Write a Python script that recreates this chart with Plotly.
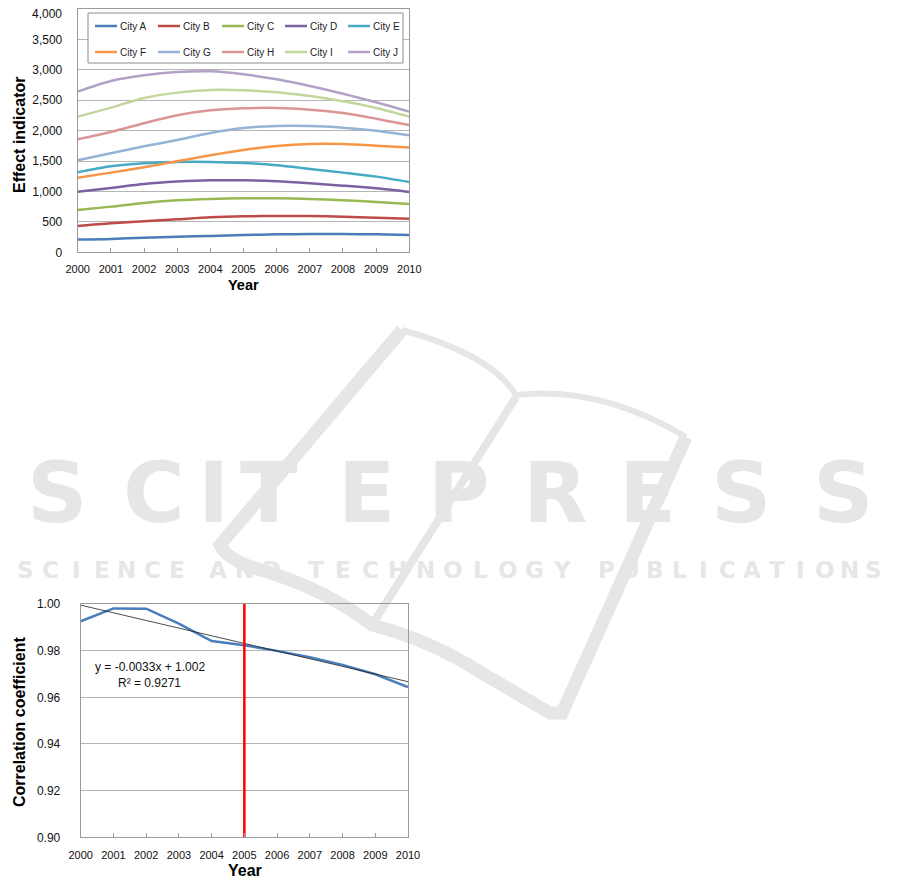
import plotly.graph_objects as go

# ---------------- data ----------------
years = [2000, 2001, 2002, 2003, 2004, 2005, 2006, 2007, 2008, 2009, 2010]
city_names = ["City A", "City B", "City C", "City D", "City E",
              "City F", "City G", "City H", "City I", "City J"]
city_a = [210, 220, 240, 255, 270, 285, 295, 300, 300, 295, 285]
city_b = [433, 477, 510, 542, 575, 592, 597, 597, 586, 570, 553]
city_c = [696, 751, 811, 855, 877, 888, 888, 877, 855, 827, 795]
city_d = [997, 1058, 1123, 1162, 1184, 1184, 1167, 1134, 1096, 1052, 992]
city_e = [1315, 1414, 1463, 1485, 1485, 1468, 1430, 1370, 1310, 1244, 1156]
city_f = [1227, 1310, 1397, 1496, 1595, 1682, 1748, 1781, 1781, 1753, 1721]
city_g = [1512, 1627, 1742, 1847, 1962, 2044, 2077, 2077, 2049, 2000, 1923]
city_h = [1858, 1978, 2121, 2252, 2334, 2367, 2373, 2345, 2290, 2197, 2093]
city_i = [2230, 2378, 2537, 2625, 2668, 2663, 2630, 2570, 2482, 2373, 2230]
city_j = [2641, 2816, 2910, 2964, 2975, 2926, 2844, 2734, 2608, 2466, 2312]
city_values = [city_a, city_b, city_c, city_d, city_e,
               city_f, city_g, city_h, city_i, city_j]
city_colors = ["#4A7EBB", "#BE4B48", "#98B954", "#7D60A0", "#46AAC5",
               "#F79646", "#95B3D7", "#D99694", "#C3D69B", "#B3A2C7"]
effect_ticks = [0, 500, 1000, 1500, 2000, 2500, 3000, 3500, 4000]
effect_tick_text = ["0", "500", "1,000", "1,500", "2,000", "2,500",
                    "3,000", "3,500", "4,000"]

corr_values = [0.9926, 0.9981, 0.9980, 0.9916, 0.9841, 0.9823,
               0.9799, 0.9772, 0.9739, 0.9699, 0.9644]
trend_years = [2000, 2010]
trend_values = [0.9995, 0.9667]
split_year = 2005
split_span = [0.90, 1.00]
trend_label = "y = -0.0033x + 1.002"
r2_label = "R² = 0.9271"

# page body has an 8px margin, so the figure is 8px smaller and every
# screen position below is shifted by that offset
OFF = 8
W, H = 901 - OFF, 880 - OFF
FONT = "Liberation Sans, Arial, sans-serif"
GRID = "#b5b5b5"
AXLINE = "#9a9a9a"
WM = "#e6e6e6"


def px(x):
    return (x - OFF) / W


def py(y):
    return 1 - (y - OFF) / H


fig = go.Figure()

# ---------------- top chart ----------------
for name, vals, col in zip(city_names, city_values, city_colors):
    fig.add_trace(go.Scatter(
        x=years, y=vals, name=name, mode="lines", showlegend=False,
        line=dict(color=col, width=2.5, shape="spline", smoothing=0.8),
        xaxis="x", yaxis="y",
    ))

# ---------------- bottom chart ----------------
fig.add_trace(go.Scatter(
    x=years, y=corr_values, mode="lines", showlegend=False,
    line=dict(color="#4A7EBB", width=2.5), xaxis="x2", yaxis="y2"))
fig.add_trace(go.Scatter(
    x=trend_years, y=trend_values, mode="lines", showlegend=False,
    line=dict(color="#202020", width=0.8), xaxis="x2", yaxis="y2"))
fig.add_trace(go.Scatter(
    x=[split_year, split_year], y=split_span, mode="lines", showlegend=False,
    line=dict(color="#FF0000", width=2.5), xaxis="x2", yaxis="y2"))

# ---------------- axes ----------------
common_x = dict(
    range=[years[0], years[-1]], tickmode="array", tickvals=years,
    ticktext=[str(y) for y in years], showgrid=False, zeroline=False,
    showline=True, linecolor=AXLINE, linewidth=1, mirror=True,
    ticks="inside", ticklen=4, tickcolor=AXLINE, automargin=False,
    ticklabeloverflow="allow",
    tickfont=dict(family=FONT, size=11, color="#111"),
)
fig.update_layout(
    xaxis=dict(common_x, domain=[px(77.7), px(409.3)], anchor="y",
               ticklabelstandoff=6),
    # the top tick label sits at the very top edge of the page; it is drawn
    # as an annotation just below so that it is not clipped
    yaxis=dict(domain=[py(252.3), py(9)], range=[effect_ticks[0], effect_ticks[-1]],
               tickmode="array", tickvals=effect_ticks[:-1],
               ticktext=effect_tick_text[:-1], anchor="x", showgrid=True,
               gridcolor=GRID, gridwidth=1, zeroline=False, showline=True,
               linecolor=AXLINE, mirror=True, ticks="", ticklabelstandoff=12,
               automargin=False, ticklabeloverflow="allow",
               tickfont=dict(family=FONT, size=12, color="#111")),
    xaxis2=dict(common_x, domain=[px(80.7), px(408)], anchor="y2",
                ticklabelstandoff=7),
    yaxis2=dict(domain=[py(837.3), py(604)], range=[0.90, 1.00], dtick=0.02,
                tickformat=".2f", anchor="x2", showgrid=True, gridcolor=GRID,
                gridwidth=1, zeroline=False, showline=True, linecolor=AXLINE,
                mirror=True, ticks="", ticklabelstandoff=17, automargin=False,
                ticklabeloverflow="allow",
                tickfont=dict(family=FONT, size=12, color="#111")),
)

shapes = [
    # legend frame
    dict(type="rect", xref="paper", yref="paper", x0=px(88), x1=px(403),
         y0=py(63), y1=py(13), line=dict(color="#8c8c8c", width=1),
         fillcolor="white", layer="above"),
    # watermark logo strokes
    dict(type="path", xref="paper", yref="paper", layer="below",
         path=("M {} {} L {} {} Q {} {} {} {} Q {} {} {} {} Q {} {} {} {} "
               "L {} {} L {} {} L {} {}").format(
             px(402), py(330), px(220), py(545),
             px(228), py(562), px(268), py(572),
             px(330), py(592), px(372), py(625),
             px(430), py(640), px(480), py(672),
             px(550), py(713), px(562), py(713), px(686), py(437)),
         line=dict(color=WM, width=13)),
    dict(type="path", xref="paper", yref="paper", layer="below",
         path="M {} {} Q {} {} {} {} Q {} {} {} {}".format(
             px(402), py(330), px(492), py(355), px(516), py(395),
             px(600), py(385), px(686), py(437)),
         line=dict(color=WM, width=6)),
    dict(type="path", xref="paper", yref="paper", layer="below",
         path="M {} {} L {} {}".format(px(516), py(397), px(372), py(625)),
         line=dict(color=WM, width=8)),
]

annotations = []


def ann(text, x, y, size, bold=False, angle=0, color="#000",
        family=FONT, xanchor="center"):
    t = "<b>%s</b>" % text if bold else text
    annotations.append(dict(
        text=t, x=x, y=y, xref="paper", yref="paper", showarrow=False,
        textangle=angle, font=dict(family=family, size=size, color=color),
        xanchor=xanchor, yanchor="middle"))


# top y tick label (kept inside the page)
ann(effect_tick_text[-1], px(64), py(13.5), 12, color="#111", xanchor="right")

# legend (2 rows x 5 columns, short line samples like the original)
leg_cols = [95, 158, 222, 285, 348]
leg_rows = [26, 52]
for i, (name, col) in enumerate(zip(city_names, city_colors)):
    lx = leg_cols[i % 5]
    ly = leg_rows[i // 5]
    shapes.append(dict(type="line", xref="paper", yref="paper", layer="above",
                       x0=px(lx), x1=px(lx + 22), y0=py(ly), y1=py(ly),
                       line=dict(color=col, width=2.5)))
    annotations.append(dict(
        text=name, x=px(lx + 23), y=py(ly), xref="paper", yref="paper",
        showarrow=False, xanchor="left", yanchor="middle",
        font=dict(family=FONT, size=10, color="#222")))

# axis titles
ann("Effect indicator", px(19), py(135), 16, bold=True, angle=-90)
ann("Year", px(243), py(285), 14.5, bold=True)
ann("Correlation coefficient", px(19), py(722), 16, bold=True, angle=-90)
ann("Year", px(245), py(870), 16, bold=True)
# trend equation
ann(trend_label, px(150), py(667), 12, color="#111")
ann(r2_label, px(149), py(683), 12, color="#111")

# watermark text
wm_big = "SCITEPRESS"
wm_big_x = [57, 154, 213, 268, 366, 459, 555, 647, 741, 843]
for ch, cx in zip(wm_big, wm_big_x):
    ann(ch, px(cx), py(493), 84, bold=True, color=WM, family="DejaVu Sans")
wm_words = ["SCIENCE", "AND", "TECHNOLOGY", "PUBLICATIONS"]
wm_spans = [(13, 190), (204, 285), (302, 576), (594, 886)]
for word, (a, b) in zip(wm_words, wm_spans):
    step = (b - a) / len(word)
    for k, ch in enumerate(word):
        ann(ch, px(a + (k + 0.5) * step), py(570), 23, bold=True, color=WM,
            family="DejaVu Sans")

fig.update_layout(
    shapes=shapes, annotations=annotations, showlegend=False,
    width=W, height=H, margin=dict(l=0, r=0, t=0, b=0),
    paper_bgcolor="white", plot_bgcolor="rgba(0,0,0,0)",
    font=dict(family=FONT, color="#111"),
)

fig.write_html("out.html")
